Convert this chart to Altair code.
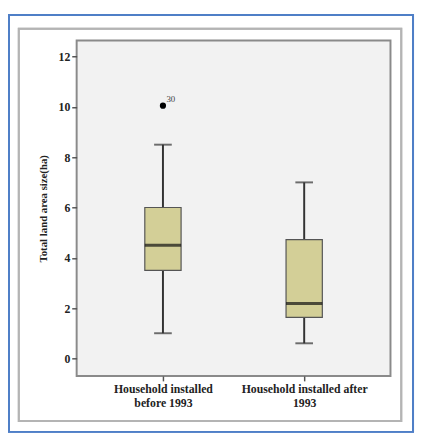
import altair as alt
import pandas as pd

categories = ["Household installed\nbefore 1993", "Household installed after\n1993"]
lower_whisker = [1.0, 0.6]
q1 = [3.5, 1.63]
median = [4.5, 2.18]
q3 = [6.0, 4.72]
upper_whisker = [8.5, 7.0]
outlier_cat = [categories[0]]
outlier_val = [10.05]
outlier_id = ["30"]

box = pd.DataFrame({"cat": categories, "lo": lower_whisker, "q1": q1,
                    "med": median, "q3": q3, "hi": upper_whisker})
outl = pd.DataFrame({"cat": outlier_cat, "v": outlier_val, "id": outlier_id})

FONT = "Liberation Serif"
xs = alt.X("cat:N", sort=categories,
           scale=alt.Scale(type="point", padding=0.611),
           axis=alt.Axis(title=None, labelAngle=0, domain=False, tickSize=5,
                         tickColor="#555", tickWidth=1.5, labelFont=FONT,
                         labelFontSize=12, labelFontWeight="bold", labelColor="#222",
                         labelPadding=3, labelLineHeight=14,
                         labelExpr="split(datum.label, '\\n')"))
yscale = alt.Scale(domain=[-0.7, 12.64], nice=False, zero=False)
yax = alt.Axis(title="Total land area size(ha)", values=[0, 2, 4, 6, 8, 10, 12],
               grid=False, domain=False, tickSize=5, tickColor="#555", tickWidth=1.5,
               labelFont=FONT, labelFontSize=12, labelFontWeight="bold",
               labelColor="#222", labelPadding=2, titleFont=FONT, titleFontSize=11,
               titleFontWeight="bold", titleColor="#222", titlePadding=10)

base = alt.Chart(box)

whisk_lo = base.mark_rule(color="#333", strokeWidth=2).encode(
    x=xs, y=alt.Y("lo:Q", scale=yscale, axis=yax), y2="q1:Q")
whisk_hi = base.mark_rule(color="#333", strokeWidth=2).encode(
    x="cat:N", y="q3:Q", y2="hi:Q")
cap_lo = base.mark_tick(color="#333", size=18, thickness=2).encode(x="cat:N", y="lo:Q")
cap_hi = base.mark_tick(color="#333", size=18, thickness=2).encode(x="cat:N", y="hi:Q")
boxes = base.mark_bar(width=37, color="#d3cf97", stroke="#555", strokeWidth=1.2).encode(
    x="cat:N", y="q1:Q", y2="q3:Q")
med = base.mark_tick(color="#111", size=37, thickness=3).encode(x="cat:N", y="med:Q")
pts = alt.Chart(outl).mark_point(filled=True, color="black", size=40, opacity=1).encode(
    x="cat:N", y="v:Q")
lbl = alt.Chart(outl).mark_text(font=FONT, fontSize=9, fill="#444", dx=8, dy=-7,
                                align="center").encode(x="cat:N", y="v:Q", text="id:N")

frame_gray = alt.Chart(box).mark_rect(fillOpacity=0, stroke="#b4b4b4", strokeWidth=2,
                                      clip=False).encode(
    x=alt.value(-59), x2=alt.value(331), y=alt.value(-12), y2=alt.value(388))
frame_blue = alt.Chart(box).mark_rect(fillOpacity=0, stroke="#4f7fc7", strokeWidth=2,
                                      clip=False).encode(
    x=alt.value(-69), x2=alt.value(343), y=alt.value(-26), y2=alt.value(399))

chart = alt.layer(frame_blue, frame_gray, whisk_lo, whisk_hi, cap_lo, cap_hi, boxes,
                  med, pts, lbl).properties(
    width=320, height=342,
    autosize=alt.AutoSizeParams(type="none"),
    padding={"left": 70, "top": 29, "right": 25, "bottom": 58},
    background="white",
).configure_view(fill="#f2f2f2", stroke="#8a8a8a", strokeWidth=2)

chart.save("out.html", embed_options={"renderer": "svg", "actions": False})
